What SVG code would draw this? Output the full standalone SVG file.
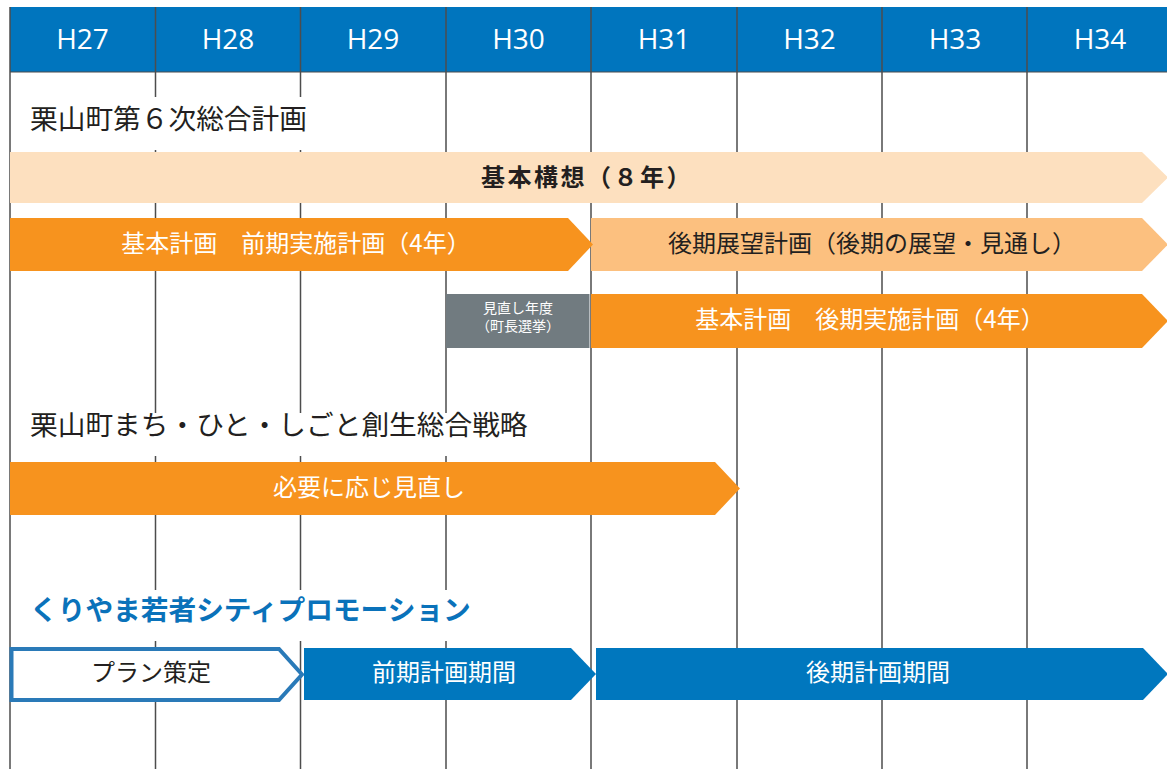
<svg xmlns="http://www.w3.org/2000/svg" width="1167" height="769" viewBox="0 0 1167 769">
<style>
.hd{font-family:"Open Sans","DejaVu Sans",sans-serif;font-size:28px;fill:#fff;text-anchor:middle;dominant-baseline:central}
.jp{font-family:"Noto Sans CJK JP","Noto Sans",sans-serif}
.ttl{font-size:27.7px;fill:#231f20;dominant-baseline:central}
.bt{font-size:24px;text-anchor:middle;dominant-baseline:central}
.w{fill:#fff}
.k{fill:#231f20}
.gl{stroke:#4d4d4d;stroke-width:1.5;fill:none}
.or{fill:#f7931e}
.bl{fill:#0077be}
</style>
<rect width="1167" height="769" fill="#fff"/>
<g id="header">
<rect x="10" y="7" width="1157" height="65" fill="#0075be"/>
<text class="hd" x="82.5" y="38">H27</text>
<text class="hd" x="228" y="38">H28</text>
<text class="hd" x="373" y="38">H29</text>
<text class="hd" x="518.5" y="38">H30</text>
<text class="hd" x="664" y="38">H31</text>
<text class="hd" x="809.5" y="38">H32</text>
<text class="hd" x="955" y="38">H33</text>
<text class="hd" x="1100" y="38">H34</text>
</g>
<g id="grid">
<line class="gl" x1="10" y1="7" x2="10" y2="769"/>
<line class="gl" x1="155.5" y1="7" x2="155.5" y2="769"/>
<line class="gl" x1="300.5" y1="7" x2="300.5" y2="769"/>
<line class="gl" x1="446" y1="7" x2="446" y2="769"/>
<line class="gl" x1="591" y1="7" x2="591" y2="769"/>
<line class="gl" x1="737" y1="7" x2="737" y2="769"/>
<line class="gl" x1="882" y1="7" x2="882" y2="769"/>
<line class="gl" x1="1027" y1="7" x2="1027" y2="769"/>
<line x1="10" y1="72" x2="1167" y2="72" stroke="#4d4d4d" stroke-width="1"/>
</g>
<g id="title1">
<rect x="12" y="97" width="308" height="53" fill="#fff"/>
<text class="jp ttl" x="30" y="117">栗山町第６次総合計画</text>
</g>
<g id="bar-kihonkoso">
<polygon points="10,152 1142,152 1168,177.5 1142,203 10,203" fill="#fde0bf"/>
<text class="jp bt k" x="587" y="175" font-weight="bold" font-size="26" letter-spacing="2.5">基本構想（８年）</text>
</g>
<g id="bar-koki-tenbo">
<polygon points="591,218 1142,218 1168,244.5 1142,271 591,271" fill="#fcc07f"/>
<text class="jp bt k" x="872" y="241" font-size="23.5">後期展望計画（後期の展望・見通し）</text>
</g>
<g id="bar-zenki">
<polygon points="10,218 568,218 593,244.5 568,271 10,271" class="or"/>
<text class="jp bt w" x="296" y="241">基本計画　前期実施計画（4年）</text>
</g>
<g id="box-minaoshi">
<rect x="446" y="294" width="143.5" height="54" fill="#717b80"/>
<text class="jp w" x="518" y="313" font-size="14" text-anchor="middle">見直し年度</text>
<text class="jp w" x="518" y="331" font-size="14" text-anchor="middle">（町長選挙）</text>
</g>
<g id="bar-koki">
<polygon points="591,294 1142,294 1168,321 1142,348 591,348" class="or"/>
<text class="jp bt w" x="870" y="317">基本計画　後期実施計画（4年）</text>
</g>
<g id="title2">
<rect x="12" y="413" width="528" height="43" fill="#fff"/>
<text class="jp ttl" x="30" y="423">栗山町まち・ひと・しごと創生総合戦略</text>
</g>
<g id="bar-senryaku">
<polygon points="10,462 715,462 740,488.5 715,515 10,515" class="or"/>
<text class="jp bt w" x="369" y="485">必要に応じ見直し</text>
</g>
<g id="title3">
<rect x="12" y="590" width="473" height="51" fill="#fff"/>
<text class="jp ttl" x="30" y="608" style="fill:#0a72ba" font-weight="bold">くりやま若者シティプロモーション</text>
</g>
<g id="bar-plan">
<polygon points="11.5,649 279,649 302,674.5 279,700 11.5,700" fill="#fff" stroke="#2a7ab8" stroke-width="4"/>
<text class="jp bt k" x="151" y="670">プラン策定</text>
</g>
<g id="bar-zenki-kikan">
<polygon points="304,648 571,648 596,674 571,700 304,700" class="bl"/>
<text class="jp bt w" x="444" y="670">前期計画期間</text>
</g>
<g id="bar-koki-kikan">
<polygon points="596,648 1143,648 1168,674 1143,700 596,700" class="bl"/>
<text class="jp bt w" x="878" y="670">後期計画期間</text>
</g>
</svg>
